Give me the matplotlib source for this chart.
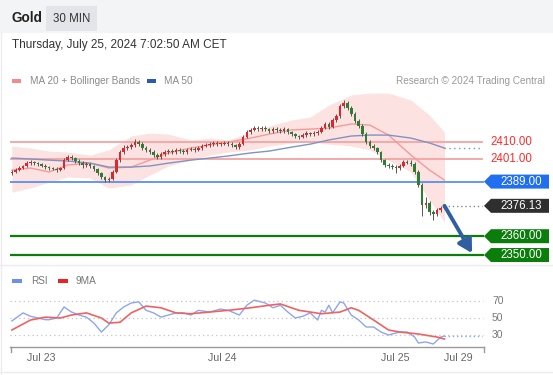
import matplotlib
matplotlib.use("Agg")
import matplotlib.pyplot as plt
from matplotlib.patches import Polygon, Rectangle

plt.rcParams["font.family"] = ["Liberation Sans", "DejaVu Sans"]

W, H = 553, 375

# ---- 30-min candles (open of each bar = previous close) ----
OPEN0 = 2393.5
CLOSE = [2394.1, 2395.1, 2396.2, 2397.3, 2398.8, 2399.4, 2398.8, 2398.3, 2397.3, 2396.7,
         2396.2, 2395.7, 2395.1, 2396.2, 2400.4, 2402.0, 2401.5, 2399.9, 2398.8, 2397.8,
         2398.3, 2397.3, 2395.7, 2393.5, 2391.4, 2389.8, 2390.4, 2394.1, 2400.4, 2404.7,
         2406.8, 2407.3, 2408.4, 2410.0, 2408.9, 2406.8, 2405.8, 2404.7, 2403.1, 2402.0,
         2403.6, 2404.7, 2405.2, 2404.7, 2405.8, 2405.2, 2404.7, 2405.8, 2406.3, 2405.8,
         2406.8, 2407.9, 2408.4, 2408.9, 2409.5, 2408.9, 2408.9, 2409.5, 2408.9, 2408.4,
         2407.3, 2408.9, 2412.7, 2415.3, 2416.4, 2417.4, 2416.9, 2417.4, 2416.9, 2415.8,
         2416.9, 2416.4, 2415.8, 2416.9, 2415.3, 2414.2, 2413.2, 2412.7, 2413.7, 2414.7,
         2414.2, 2414.7, 2415.3, 2417.4, 2419.6, 2418.0, 2421.7, 2423.8, 2429.1, 2430.7,
         2428.1, 2424.9, 2421.2, 2418.5, 2414.2, 2410.0, 2407.9, 2406.8, 2404.7, 2400.4,
         2397.8, 2397.3, 2396.7, 2396.2, 2397.3, 2399.4, 2399.0, 2398.3, 2394.1, 2387.2,
         2376.6, 2377.6, 2372.8, 2371.8, 2373.9, 2375.0, 2376.13]
HIGH = [2395.0, 2396.0, 2397.1, 2398.0, 2399.9, 2400.6, 2400.2, 2399.6, 2399.0, 2398.1,
        2397.5, 2397.0, 2396.6, 2397.0, 2401.5, 2403.2, 2403.0, 2402.3, 2400.8, 2399.7,
        2399.4, 2399.0, 2398.0, 2396.4, 2394.3, 2392.2, 2391.5, 2395.0, 2401.3, 2405.8,
        2408.2, 2408.6, 2409.6, 2411.4, 2411.0, 2409.8, 2407.7, 2406.9, 2405.6, 2404.0,
        2404.7, 2405.9, 2406.3, 2406.1, 2406.9, 2406.7, 2406.2, 2406.8, 2407.4, 2407.3,
        2407.9, 2408.9, 2409.5, 2410.0, 2410.5, 2410.4, 2409.9, 2410.4, 2410.3, 2409.8,
        2409.2, 2409.8, 2413.8, 2416.6, 2417.6, 2418.6, 2418.3, 2418.5, 2418.3, 2417.7,
        2417.9, 2417.8, 2417.3, 2417.8, 2417.7, 2416.1, 2415.0, 2414.0, 2414.6, 2415.8,
        2415.6, 2415.7, 2416.2, 2418.5, 2420.8, 2420.5, 2422.8, 2425.0, 2430.3, 2432.4,
        2431.6, 2429.0, 2425.8, 2422.1, 2419.4, 2415.1, 2410.9, 2408.8, 2407.6, 2405.5,
        2401.2, 2398.9, 2398.2, 2397.7, 2398.3, 2400.5, 2400.6, 2400.3, 2399.2, 2395.0,
        2388.0, 2380.6, 2378.5, 2373.8, 2375.0, 2376.2, 2377.0]
LOW = [2392.6, 2393.4, 2394.6, 2395.5, 2396.8, 2398.0, 2398.0, 2397.5, 2396.5, 2395.9,
       2395.3, 2394.9, 2394.2, 2394.5, 2395.6, 2399.7, 2400.6, 2399.0, 2397.6, 2396.3,
       2397.0, 2396.4, 2394.8, 2392.3, 2390.3, 2388.6, 2388.9, 2389.6, 2393.5, 2399.6,
       2403.9, 2405.9, 2406.5, 2407.5, 2408.0, 2405.9, 2404.6, 2403.7, 2401.9, 2401.0,
       2401.2, 2402.8, 2403.9, 2403.8, 2403.9, 2404.3, 2403.8, 2403.9, 2405.0, 2404.9,
       2405.0, 2406.0, 2407.2, 2407.6, 2408.1, 2408.0, 2407.9, 2408.2, 2408.0, 2407.5,
       2406.2, 2406.5, 2408.2, 2412.0, 2414.5, 2415.7, 2416.0, 2416.0, 2415.9, 2414.8,
       2415.0, 2415.5, 2414.9, 2415.0, 2414.4, 2413.3, 2412.1, 2411.6, 2411.9, 2412.9,
       2413.3, 2413.4, 2413.9, 2414.6, 2416.8, 2417.0, 2417.3, 2420.9, 2423.0, 2428.2,
       2427.2, 2424.0, 2420.1, 2417.4, 2413.2, 2408.9, 2406.8, 2405.7, 2403.6, 2399.3,
       2396.7, 2396.2, 2395.6, 2393.6, 2395.2, 2396.6, 2398.2, 2397.2, 2393.0, 2386.0,
       2370.5, 2375.0, 2371.0, 2368.5, 2370.8, 2373.0, 2374.6]

# ---- indicators at sample bars ----
BAND_IDX = [0, 5, 10, 15, 21, 26, 32, 37, 42, 48, 53, 58, 64, 69, 75, 80, 85, 91, 96, 101, 107, 112, 116]
MA20 = [2395.1, 2396.2, 2394.1, 2397.8, 2398.8, 2396.2, 2396.7, 2400.4, 2404.2, 2406.8, 2408.4, 2410.0,
        2412.1, 2414.2, 2416.4, 2416.9, 2417.4, 2419.6, 2419.0, 2413.7, 2403.1, 2395.1, 2389.8]
MA50 = [2401.5, 2401.0, 2400.4, 2399.9, 2398.8, 2396.7, 2396.7, 2397.3, 2398.8, 2400.4, 2401.5, 2402.6,
        2404.2, 2405.2, 2407.3, 2408.9, 2411.1, 2413.2, 2413.7, 2413.7, 2412.1, 2409.5, 2406.8]
BB_UP = [2407.9, 2406.8, 2405.2, 2404.7, 2403.1, 2405.8, 2413.2, 2414.8, 2414.2, 2411.1, 2412.1, 2411.1,
         2415.3, 2418.5, 2421.7, 2423.3, 2429.6, 2435.0, 2436.0, 2436.0, 2432.3, 2424.3, 2415.3]
BB_LO = [2383.4, 2385.6, 2388.8, 2391.4, 2390.9, 2385.6, 2387.2, 2392.5, 2397.3, 2400.4, 2403.1, 2404.7,
         2405.8, 2407.9, 2409.5, 2410.0, 2408.9, 2407.9, 2405.8, 2400.4, 2394.1, 2379.2, 2367.5]

RSI_IDX = [0, 3, 5, 7, 9, 10, 12, 14, 16, 18, 20, 22, 24, 26, 28, 30, 32, 34, 36, 38, 40, 42, 44, 46,
           48, 50, 53, 56, 58, 61, 63, 65, 68, 70, 72, 74, 76, 78, 80, 82, 83, 84, 85, 86, 88, 89,
           91, 93, 95, 97, 99, 101, 104, 106, 108, 109, 111, 113, 115, 116]
RSI = [46.5, 56, 52, 50, 48, 48, 50, 63, 57, 53.5, 51, 44, 33.5, 42, 56, 63, 67.6, 69, 59, 56, 51,
       53.5, 56, 56, 53.5, 59, 57, 60.5, 59, 53.5, 65, 71, 67.6, 62, 65, 57, 50, 52, 56, 47.6, 59,
       57, 65, 56, 69, 67.6, 53.5, 47.6, 39.4, 39.4, 33.5, 30, 33.5, 33.5, 27.6, 20.6, 21.8, 19.4,
       27.6, 28.8]
MA9_IDX = [0, 5, 9, 13, 16, 20, 24, 26, 29, 32, 36, 40, 44, 48, 53, 58, 64, 69, 72, 77, 83, 88, 91,
           93, 97, 101, 104, 109, 114, 116]
MA9 = [35.9, 47.6, 51, 50, 53.5, 56, 50, 44, 45, 56, 64, 62, 56, 55, 57, 59, 62, 65, 66.5, 59, 55,
       57, 62, 59, 47.6, 35.9, 33.5, 31.2, 27.6, 25.3]

RESIST = [2410.0, 2401.0]
PIVOT = 2389.0
TARGETS = [2360.0, 2350.0]
ARROW_END = (123.4, 2351.0)
XTICK_POS = [8, 56.3, 102.7, 119.6]
XTICK_LAB = ["Jul 23", "Jul 24", "Jul 25", "Jul 29"]
RSI_LEVELS = [70, 50, 30]

UP, DOWN = "#e0262b", "#2e7d32"

fig = plt.figure(figsize=(W / 100, H / 100), dpi=100)
fig.patch.set_facecolor("white")


def px_axes(x0, y0, x1, y1, z=1):
    a = fig.add_axes([x0 / W, 1 - y1 / H, (x1 - x0) / W, (y1 - y0) / H], zorder=z)
    a.set_facecolor("none")
    a.axis("off")
    return a


bg = px_axes(0, 0, W, H, z=0)
bg.set_xlim(0, W); bg.set_ylim(H, 0)
ax = px_axes(10, 88, 484, 262, z=2)
ax.set_xlim(-0.5, 126.6); ax.set_ylim(2346.3, 2438.7)
rs = px_axes(10, 285, 484, 347, z=2)
rs.set_xlim(-0.5, 126.6); rs.set_ylim(15.9, 88.8)
fg = px_axes(0, 0, W, H, z=5)
fg.set_xlim(0, W); fg.set_ylim(H, 0)


def py(a, v):
    return H - a.transData.transform((0, v))[1]


def frac(xpx):
    return (xpx - 10) / 474


# header
bg.add_patch(Rectangle((0, 0), W, 33, color="#f3f4f6", lw=0))
bg.add_patch(Rectangle((46, 6), 51, 25, color="#e3e5e8", lw=0))
bg.plot([0, W], [265, 265], color="#ececec", lw=1)
bg.plot([0, W], [372, 372], color="#ececec", lw=1)
bg.plot([1, 1], [33, H], color="#ececec", lw=1)
fg.text(11, 18.5, "Gold", fontsize=9.8, weight="bold", color="#222", va="center")
fg.text(71.5, 18.5, "30 MIN", fontsize=8.3, color="#333", va="center", ha="center")
fg.text(12, 45, "Thursday, July 25, 2024 7:02:50 AM CET", fontsize=8.5, color="#333", va="center")
fg.add_patch(Rectangle((12, 78.5), 9, 4, color="#f48a8a", lw=0))
fg.text(30, 80.5, "MA 20 + Bollinger Bands", fontsize=7.2, color="#8a8a8a", va="center")
fg.add_patch(Rectangle((147, 78.5), 9, 4, color="#2a5caa", lw=0))
fg.text(164, 80.5, "MA 50", fontsize=7.2, color="#8a8a8a", va="center")
fg.text(545, 80.5, "Research \u00a9 2024 Trading Central", fontsize=7.2, color="#9a9a9a",
        va="center", ha="right")

# bollinger + moving averages
ax.fill_between(BAND_IDX, BB_LO, BB_UP, color="#fde2e2", lw=0, zorder=1)
ax.plot(BAND_IDX, MA20, color="#f59a9a", lw=1, zorder=2)
ax.plot(BAND_IDX, MA50, color="#7f93c4", lw=1, zorder=2)
ax.plot([BAND_IDX[-1], 126.1], [MA50[-1], MA50[-1]], color="#7f93c4", lw=1,
        ls=(0, (1, 2.5)), zorder=2)

# levels
for lv in RESIST:
    ax.axhline(lv, xmax=frac(482), color="#f5a3a3", lw=1.3, zorder=1.5)
    fg.text(490, py(ax, lv), f"{lv:.2f}", color="#ff2b2b", fontsize=8.3, va="center")
ax.axhline(PIVOT, xmax=frac(484), color="#5b8ff0", lw=1.3, zorder=1.5)
for lv in TARGETS:
    ax.axhline(lv, xmax=frac(484), color="#0b7d0b", lw=1.6, zorder=1.5)

# candles
opens = [OPEN0] + CLOSE[:-1]
for i, (o, h, l, c) in enumerate(zip(opens, HIGH, LOW, CLOSE)):
    col = UP if c >= o else DOWN
    ax.vlines(i, l, h, color="#555", lw=0.7, zorder=3)
    body = max(abs(c - o), 0.4)
    ax.bar(i, body, bottom=min(o, c), width=0.7, color=col, lw=0, zorder=4)

last = CLOSE[-1]
ax.plot([len(CLOSE) - 1, 126.1], [last, last], color="#888", lw=1, ls=(0, (1, 2)), zorder=2)
ax.annotate("", xy=ARROW_END, xytext=(len(CLOSE) - 1, last), zorder=6,
            arrowprops=dict(arrowstyle="-|>,head_length=0.8,head_width=0.45",
                            color="#2f5f9f", lw=2.8, shrinkA=0, shrinkB=0))


def tag(v, fc):
    y = py(ax, v)
    x0, x1, h = 484, 549, 7
    fg.add_patch(Polygon([(x0, y), (x0 + 7, y - h), (x1, y - h), (x1, y + h), (x0 + 7, y + h)],
                         closed=True, fc=fc, ec="none"))
    fg.text((x0 + 7 + x1) / 2 + 1, y, f"{v:.2f}", color="white", fontsize=8.3,
            ha="center", va="center")


tag(PIVOT, "#1f6ff0")
tag(last, "#2f2f2f")
for lv in TARGETS:
    tag(lv, "#0b7d0b")

# RSI panel
for lv in RSI_LEVELS:
    rs.axhline(lv, xmax=frac(483), color="#c4c4c4", lw=0.9, ls=(0, (1, 2.5)))
    fg.text(492, py(rs, lv), str(lv), color="#777", fontsize=7.5, va="center")
rs.plot(RSI_IDX, RSI, color="#8ea6ee", lw=1)
rs.plot([RSI_IDX[-1], 126.1], [RSI[-1], RSI[-1]], color="#8ea6ee", lw=1, ls=(0, (1, 2)))
rs.plot(MA9_IDX, MA9, color="#f06262", lw=1.2)
fg.add_patch(Rectangle((12, 279), 10, 4, color="#6f8fe8", lw=0))
fg.text(31, 281, "RSI", fontsize=7.2, color="#777", va="center")
fg.add_patch(Rectangle((58, 279), 10, 4, color="#ee2222", lw=0))
fg.text(76, 281, "9MA", fontsize=7.2, color="#777", va="center")

fg.plot([10, 484], [347, 347], color="#9a9a9a", lw=1)
fg.plot([10.5, 10.5], [347, 352], color="#9a9a9a", lw=1)
fg.plot([483.5, 483.5], [347, 352], color="#9a9a9a", lw=1)
for pos, lab in zip(XTICK_POS, XTICK_LAB):
    rs.text(pos, -0.18, lab, transform=rs.get_xaxis_transform(), ha="center", va="center",
            fontsize=7.7, color="#666")

fig.savefig("out.png", dpi=100, facecolor="white")
